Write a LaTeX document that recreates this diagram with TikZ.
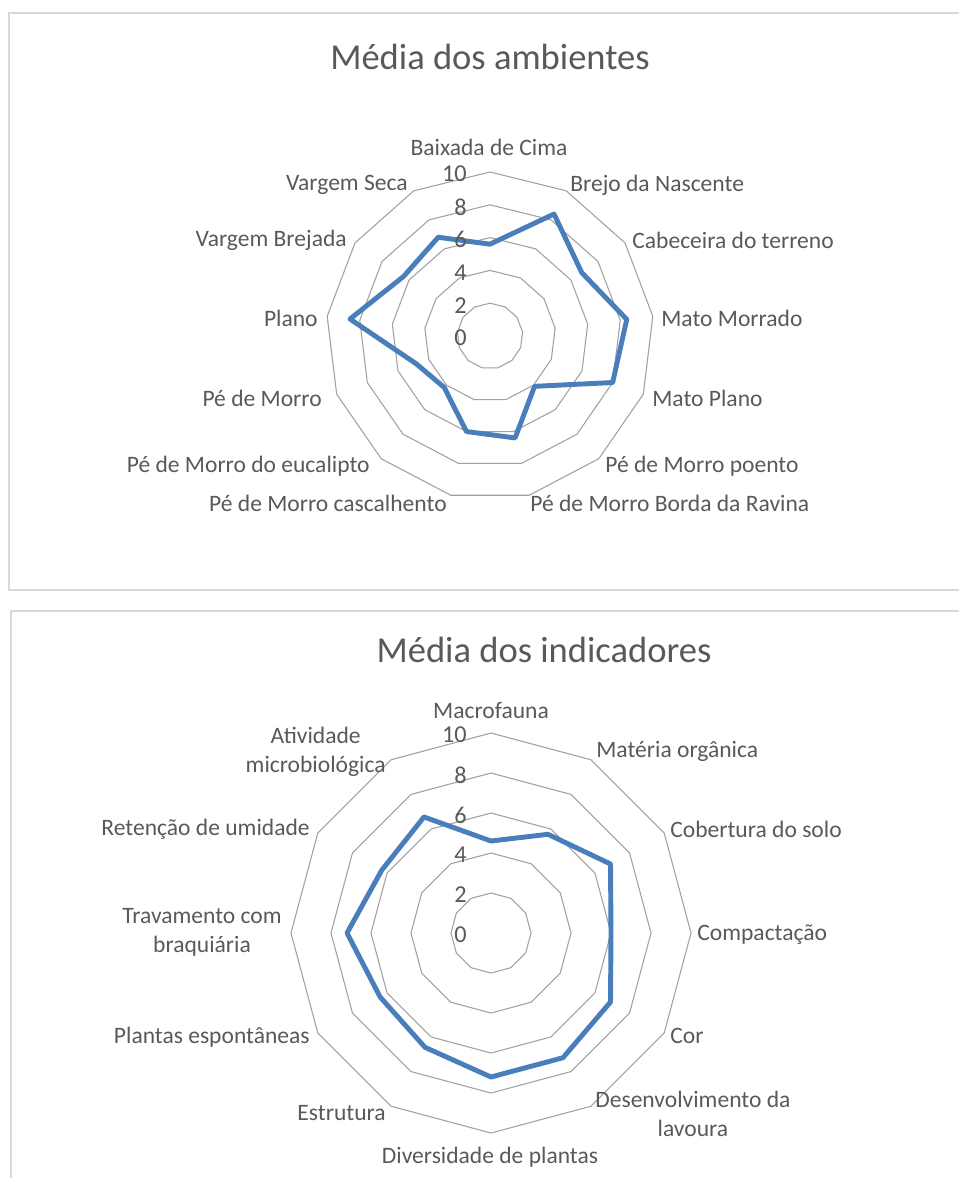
\documentclass[tikz,border=0pt]{standalone}
\usepackage{fontspec}
\setmainfont{Carlito}
\usepackage{xcolor}
\usetikzlibrary{positioning}
\definecolor{cinzatexto}{HTML}{595959}
\definecolor{cinzagrade}{HTML}{A0A0A0}
\definecolor{azulserie}{HTML}{4A7EBB}
\definecolor{cinzaborda}{HTML}{D9D9D9}
\tikzset{
  moldura/.style={draw=cinzaborda, line width=1.2pt},
  grade/.style={draw=cinzagrade, line width=0.6pt, line join=miter},
  serie/.style={draw=azulserie, line width=2.8pt, line join=round},
  titulo/.style={text=cinzatexto, font=\fontsize{20.8}{25}\selectfont, inner sep=0pt},
  cat/.style={text=cinzatexto, font=\fontsize{13.4}{16.6}\selectfont, inner sep=0pt, align=center},
  escala/.style={text=cinzatexto, font=\fontsize{13.8}{16}\selectfont, inner sep=0pt, anchor=east},
}

\begin{document}
\begin{tikzpicture}[x=0.02cm, y=-0.02cm]
  \useasboundingbox (0,0) rectangle (958,1178);
  % molduras dos dois graficos
  \draw[moldura] (962,13) -- (9,13) -- (9,590) -- (962,590);
  \draw[moldura] (962,611) -- (11,611) -- (11,1182);

  % ---- Media dos ambientes ----
  \node[titulo, anchor=base] (tit1) at (490,69) {Média dos ambientes};
  \begin{scope}[shift={(490,336)}]
    \foreach \v in {2,4,...,10}
      \draw[grade] (-90:{\v*16.4}) \foreach \i in {1,...,12}{ -- ({-90+\i*360/13}:{\v*16.4}) } -- cycle;
    \foreach \v [count=\i from 0] in {5.6,8.4,6.8,8.4,8.0,4.1,6.4,6.0,4.2,4.8,8.6,6.4,6.8}
      \coordinate (a\i) at ({-90+\i*360/13}:{\v*16.4});
  \end{scope}
  \draw[serie] (a0) \foreach \i in {1,...,12}{ -- (a\i) } -- cycle;
  \foreach \v in {0,2,...,10}
    \node[escala] (e1-\v) at (467,{338-\v*16.4}) {\v};
  \foreach \ancora/\px/\py/\texto [count=\n] in {
      center/489/147/Baixada de Cima,
      west/570/185/Brejo da Nascente,
      west/632/240/Cabeceira do terreno,
      west/661/318/Mato Morrado,
      west/652/398/Mato Plano,
      west/605/466/Pé de Morro poento,
      west/530/503/Pé de Morro Borda da Ravina,
      east/447/503/Pé de Morro cascalhento,
      east/370/466/Pé de Morro do eucalipto,
      east/322/398/Pé de Morro,
      east/318/318/Plano,
      east/347/240/Vargem Brejada,
      east/408/185/Vargem Seca}
    \node[cat, anchor=\ancora] (c1-\n) at (\px,\py) {\texto};

  % ---- Media dos indicadores ----
  \node[titulo, anchor=base] (tit2) at (544,662) {Média dos indicadores};
  \begin{scope}[shift={(491,933)}]
    \foreach \v in {2,4,...,10}
      \draw[grade] (-90:{\v*20}) \foreach \i in {1,...,11}{ -- ({-90+\i*30}:{\v*20}) } -- cycle;
    \foreach \v [count=\i from 0] in {4.6,5.7,6.9,6.0,6.9,7.2,7.2,6.6,6.4,7.2,6.3,6.7}
      \coordinate (b\i) at ({-90+\i*30}:{\v*20});
  \end{scope}
  \draw[serie] (b0) \foreach \i in {1,...,11}{ -- (b\i) } -- cycle;
  \foreach \v in {0,2,...,10}
    \node[escala] (e2-\v) at (467,{935-\v*20}) {\v};
  \foreach \ancora/\px/\py/\texto [count=\n] in {
      center/491/711/Macrofauna,
      west/596/751/Matéria orgânica,
      west/670/829/Cobertura do solo,
      west/697/935/Compactação,
      west/670/1036/Cor,
      west/595/1114/{Desenvolvimento da\\lavoura},
      center/490/1157/Diversidade de plantas,
      east/386/1113/Estrutura,
      east/310/1037/Plantas espontâneas,
      east/282/932/{Travamento com\\braquiária},
      east/310/829/Retenção de umidade,
      east/386/752/{Atividade\\microbiológica}}
    \node[cat, anchor=\ancora] (c2-\n) at (\px,\py) {\texto};
\end{tikzpicture}
\end{document}
